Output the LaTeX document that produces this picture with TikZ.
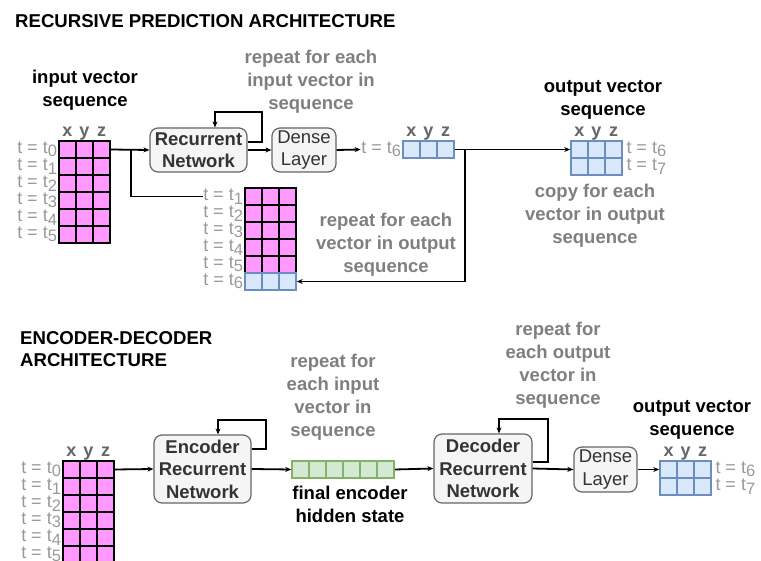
\documentclass[tikz,border=0pt]{standalone}
\usepackage{fontspec}
\setmainfont{Liberation Sans}
\usetikzlibrary{shapes,arrows.meta,positioning}
\definecolor{pinkfill}{HTML}{FF99FF}
\definecolor{bluefill}{HTML}{DAE8FC}
\definecolor{blueedge}{HTML}{6C8EBF}
\definecolor{greenfill}{HTML}{D5E8D4}
\definecolor{greenedge}{HTML}{82B366}
\definecolor{boxfill}{HTML}{F5F5F5}
\definecolor{boxedge}{HTML}{666666}
\definecolor{boxtext}{HTML}{333333}
\definecolor{notegray}{HTML}{7F7F7F}
\definecolor{labgray}{HTML}{999999}
\definecolor{xyzgray}{HTML}{666666}
% time step label, t = t_k
\newcommand*\tstep[1]{t = t\raisebox{-3.5pt}{\fontsize{16.5}{16.5}\selectfont#1}}

\begin{document}
\begin{tikzpicture}[x=1pt,y=-1pt,>={Stealth[length=6pt,width=5pt]},
     pcell/.style={draw=black,fill=pinkfill,minimum size=17pt,inner sep=0pt,line width=1.7pt},
     bcell/.style={draw=blueedge,fill=bluefill,minimum size=17pt,inner sep=0pt,line width=1.6pt},
     gcell/.style={draw=greenedge,fill=greenfill,minimum size=17pt,inner sep=0pt,line width=1.6pt},
     tlab/.style={text=labgray,font=\fontsize{18}{18}\selectfont,inner sep=0.5pt},
     xyz/.style={text=xyzgray,font=\bfseries\fontsize{18}{18}\selectfont,anchor=base,inner sep=0pt},
     ttl/.style={font=\bfseries\fontsize{18.6}{22}\selectfont,anchor=west,align=left,inner sep=0pt},
     hdr/.style={font=\bfseries\fontsize{18.5}{23}\selectfont,align=center},
     note/.style={hdr,text=notegray},
     netbox/.style={draw=boxedge,fill=boxfill,rounded corners=8pt,line width=1.2pt,text=boxtext,
                    font=\bfseries\fontsize{18.5}{22.5}\selectfont,align=center,inner sep=0pt},
     densebox/.style={netbox,font=\fontsize{18.5}{22.5}\selectfont},
     conn/.style={line width=1.8pt}
     ]
   \clip (0,0) rectangle (761,561);

   % ---------------- recursive prediction ----------------
   \node[ttl] (ttlA) at (15,21) {RECURSIVE PREDICTION ARCHITECTURE};
   \node[hdr] (hdrA) at (85,90) {input vector\\sequence};
   \node[note] (noteA) at (311,82) {repeat for each\\input vector in\\sequence};
   \node[note] (noteB) at (386,245) {repeat for each\\vector in output\\sequence};
   \node[hdr] (hdrB) at (603,99.5) {output vector\\sequence};
   \node[note] (noteC) at (595,216) {copy for each\\vector in output\\sequence};

   \foreach \r in {0,...,5}{
     \foreach \c in {0,1,2}
       \node[pcell] (inA-\r-\c) at ({67.5+17*\c},{149.5+17*\r}) {};
     \node[tlab,left=0.5pt of inA-\r-0] (inA-t\r) {\tstep{\r}};
   }

   \foreach \r [evaluate=\r as \k using int(\r+1)] in {0,...,5}{
     \ifnum\r<5
       \foreach \c in {0,1,2}
         \node[pcell] (stk-\r-\c) at ({253.5+17*\c},{196.5+17*\r}) {};
     \else
       \foreach \c in {0,1,2}
         \node[bcell] (stk-\r-\c) at ({253.5+17*\c},{196.5+17*\r}) {};
     \fi
     \node[tlab,left=0.5pt of stk-\r-0] (stk-t\r) {\tstep{\k}};
   }

   \foreach \c in {0,1,2}
     \node[bcell] (blu-\c) at ({411.5+17*\c},149.5) {};
   \node[tlab,left=0.5pt of blu-0] (blu-t) {\tstep{6}};

   \foreach \r [evaluate=\r as \k using int(\r+6)] in {0,1}{
     \foreach \c in {0,1,2}
       \node[bcell] (outA-\r-\c) at ({579.5+17*\c},{149.5+17*\r}) {};
     \node[tlab,right=3pt of outA-\r-2] (outA-t\r) {\tstep{\k}};
   }

   \foreach \c/\v in {0/x,1/y,2/z}{
     \node[xyz] (inA-\v) at ([yshift=4pt]inA-0-\c.north) {\v};
     \node[xyz] (blu-\v) at ([yshift=4pt]blu-\c.north) {\v};
     \node[xyz] (outA-\v) at ([yshift=4pt]outA-0-\c.north) {\v};
   }

   \node[netbox,minimum width=97pt,minimum height=44pt] (rnA) at (198.5,150) {Recurrent\\Network};
   \node[densebox,minimum width=64pt,minimum height=44pt] (dlA) at (304,150) {Dense\\Layer};

   \draw[conn,->] (inA-0-2.east) -- (rnA.west);
   \draw[conn] ([xshift=20pt]inA-0-2.east) |- (stk-t0.west);
   \draw[conn,->] ([yshift=8pt]rnA.east) -- ++(14,0) -- ++(0,-30) -| ([xshift=16.5pt]rnA.north);
   \draw[conn,->] (rnA.east) -- (dlA.west);
   \draw[conn,->] (dlA.east) -- (blu-t.west);
   \draw[conn,->] (blu-2.east) -- (outA-0-0.west);
   \draw[conn,->] ([xshift=10pt]blu-2.east) |- (stk-5-2.east);

   % ---------------- encoder-decoder ----------------
   \node[ttl] (ttlB) at (20,349) {ENCODER-DECODER\\ARCHITECTURE};
   \node[note] (noteD) at (333,397) {repeat for\\each input\\vector in\\sequence};
   \node[hdr] (hdrC) at (350,504) {final encoder\\hidden state};
   \node[note] (noteE) at (558,365.5) {repeat for\\each output\\vector in\\sequence};
   \node[hdr] (hdrD) at (692,419.5) {output vector\\sequence};

   \foreach \r in {0,...,5}{
     \foreach \c in {0,1,2}
       \node[pcell] (inB-\r-\c) at ({71.5+17*\c},{469.5+17*\r}) {};
     \node[tlab,left=0.5pt of inB-\r-0] (inB-t\r) {\tstep{\r}};
   }

   \foreach \c in {0,...,5}
     \node[gcell] (hid-\c) at ({300.5+17*\c},469.5) {};

   \foreach \r [evaluate=\r as \k using int(\r+6)] in {0,1}{
     \foreach \c in {0,1,2}
       \node[bcell] (outB-\r-\c) at ({668.5+17*\c},{469.5+17*\r}) {};
     \node[tlab,right=3pt of outB-\r-2] (outB-t\r) {\tstep{\k}};
   }

   \foreach \c/\v in {0/x,1/y,2/z}{
     \node[xyz] (inB-\v) at ([yshift=4pt]inB-0-\c.north) {\v};
     \node[xyz] (outB-\v) at ([yshift=4pt]outB-0-\c.north) {\v};
   }

   \node[netbox,minimum width=97pt,minimum height=68pt] (enc) at (202.5,469) {Encoder\\Recurrent\\Network};
   \node[netbox,minimum width=98pt,minimum height=69pt] (dec) at (483,468.5) {Decoder\\Recurrent\\Network};
   \node[densebox,minimum width=63pt,minimum height=45pt] (dlB) at (605.5,469.5) {Dense\\Layer};

   \draw[conn,->] (inB-0-2.east) -- (enc.west);
   \draw[conn,->] ([yshift=20pt]enc.east) -- ++(14,0) -- ++(0,-29) -| ([xshift=15.5pt]enc.north);
   \draw[conn,->] (enc.east) -- (hid-0.west);
   \draw[conn,->] (hid-5.east) -- (dec.west);
   \draw[conn,->] ([yshift=6.5pt]dec.east) -- ++(15,0) -- ++(0,-43) -| ([xshift=16pt]dec.north);
   \draw[conn,->] (dec.east) -- (dlB.west);
   \draw[conn,->] (dlB.east) -- (outB-0-0.west);
\end{tikzpicture}
\end{document}
